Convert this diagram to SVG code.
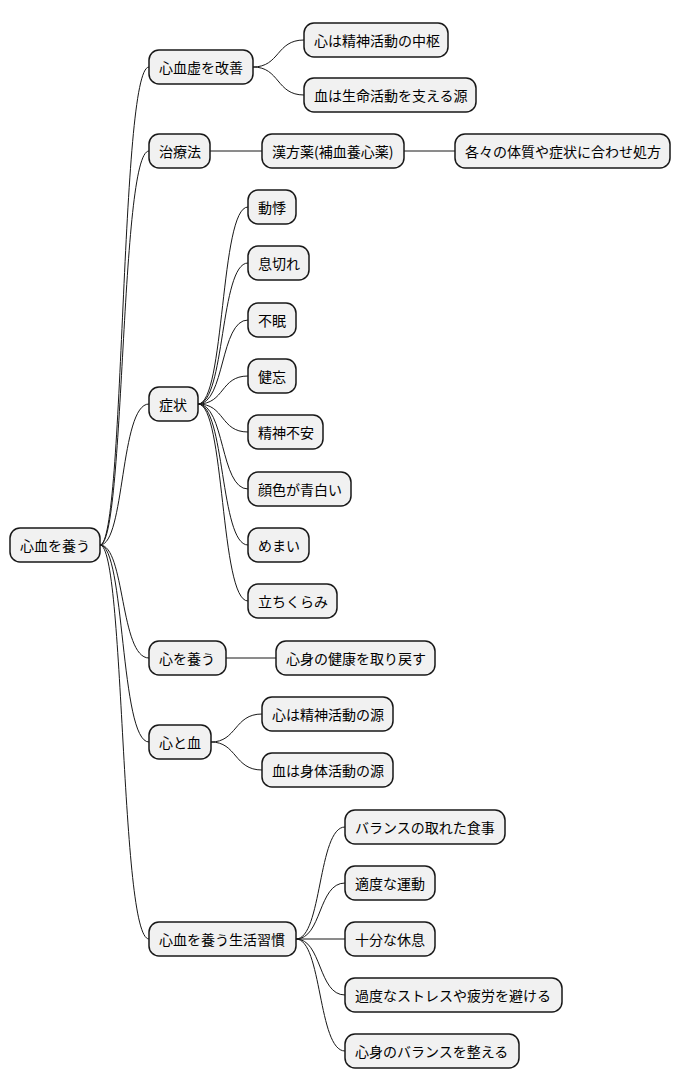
<svg xmlns="http://www.w3.org/2000/svg" width="681" height="1090" viewBox="0 0 681 1090">
<style>
rect{fill:#F1F1F1;stroke:#181818;stroke-width:1.5}
text{font-family:"Noto Sans CJK JP","Noto Sans",sans-serif;font-size:14px;fill:#000;dominant-baseline:central}
#edges path{fill:none;stroke:#181818;stroke-width:1}
</style>
<rect width="681" height="1090" style="fill:#fff;stroke:none"/>
<g id="edges">
<path d="M100,545 C125,545 120,67 149,67"/>
<path d="M100,545 C125,545 120,151 149,151"/>
<path d="M100,545 C125,545 120,404 149,404"/>
<path d="M100,545 C125,545 120,658 149,658"/>
<path d="M100,545 C125,545 120,742 149,742"/>
<path d="M100,545 C125,545 120,939 149,939"/>
<path d="M253,67 C280,67 276,40 304,40"/>
<path d="M253,67 C280,67 276,95 304,95"/>
<path d="M210,151 L262,151"/>
<path d="M404,151 L455,151"/>
<path d="M198,404 C225,404 220,207 248,207"/>
<path d="M198,404 C225,404 220,263 248,263"/>
<path d="M198,404 C225,404 220,320 248,320"/>
<path d="M198,404 C225,404 220,376 248,376"/>
<path d="M198,404 C225,404 220,432 248,432"/>
<path d="M198,404 C225,404 220,489 248,489"/>
<path d="M198,404 C225,404 220,545 248,545"/>
<path d="M198,404 C225,404 220,601 248,601"/>
<path d="M226,658 L276,658"/>
<path d="M211,742 C237,742 234,714 262,714"/>
<path d="M211,742 C237,742 234,770 262,770"/>
<path d="M296,939 C322,939 318,827 345,827"/>
<path d="M296,939 C322,939 318,883 345,883"/>
<path d="M296,939 L345,939"/>
<path d="M296,939 C322,939 318,995 345,995"/>
<path d="M296,939 C322,939 318,1051 345,1051"/>
</g>
<g id="root"><rect x="10" y="528" width="90" height="34" rx="10"/><text x="20" y="545">心血を養う</text></g>
<g id="n1"><rect x="149" y="50" width="104" height="34" rx="10"/><text x="159" y="67">心血虚を改善</text></g>
<g id="n1a"><rect x="304" y="23" width="144" height="34" rx="10"/><text x="314" y="40">心は精神活動の中枢</text></g>
<g id="n1b"><rect x="304" y="78" width="172" height="34" rx="10"/><text x="314" y="95">血は生命活動を支える源</text></g>
<g id="n2"><rect x="149" y="134" width="61" height="34" rx="10"/><text x="159" y="151">治療法</text></g>
<g id="n2a"><rect x="262" y="134" width="142" height="34" rx="10"/><text x="272" y="151">漢方薬(補血養心薬)</text></g>
<g id="n2b"><rect x="455" y="134" width="215" height="34" rx="10"/><text x="465" y="151">各々の体質や症状に合わせ処方</text></g>
<g id="n3"><rect x="149" y="387" width="49" height="34" rx="10"/><text x="159" y="404">症状</text></g>
<g id="n3a"><rect x="248" y="190" width="48" height="34" rx="10"/><text x="258" y="207">動悸</text></g>
<g id="n3b"><rect x="248" y="246" width="61" height="34" rx="10"/><text x="258" y="263">息切れ</text></g>
<g id="n3c"><rect x="248" y="303" width="48" height="34" rx="10"/><text x="258" y="320">不眠</text></g>
<g id="n3d"><rect x="248" y="359" width="48" height="34" rx="10"/><text x="258" y="376">健忘</text></g>
<g id="n3e"><rect x="248" y="415" width="75" height="34" rx="10"/><text x="258" y="432">精神不安</text></g>
<g id="n3f"><rect x="248" y="472" width="103" height="34" rx="10"/><text x="258" y="489">顔色が青白い</text></g>
<g id="n3g"><rect x="248" y="528" width="61" height="34" rx="10"/><text x="258" y="545">めまい</text></g>
<g id="n3h"><rect x="248" y="584" width="89" height="34" rx="10"/><text x="258" y="601">立ちくらみ</text></g>
<g id="n4"><rect x="149" y="641" width="77" height="34" rx="10"/><text x="159" y="658">心を養う</text></g>
<g id="n4a"><rect x="276" y="641" width="159" height="34" rx="10"/><text x="286" y="658">心身の健康を取り戻す</text></g>
<g id="n5"><rect x="149" y="725" width="62" height="34" rx="10"/><text x="159" y="742">心と血</text></g>
<g id="n5a"><rect x="262" y="697" width="131" height="34" rx="10"/><text x="272" y="714">心は精神活動の源</text></g>
<g id="n5b"><rect x="262" y="753" width="131" height="34" rx="10"/><text x="272" y="770">血は身体活動の源</text></g>
<g id="n6"><rect x="149" y="922" width="147" height="34" rx="10"/><text x="159" y="939">心血を養う生活習慣</text></g>
<g id="n6a"><rect x="345" y="810" width="160" height="34" rx="10"/><text x="355" y="827">バランスの取れた食事</text></g>
<g id="n6b"><rect x="345" y="866" width="90" height="34" rx="10"/><text x="355" y="883">適度な運動</text></g>
<g id="n6c"><rect x="345" y="922" width="90" height="34" rx="10"/><text x="355" y="939">十分な休息</text></g>
<g id="n6d"><rect x="345" y="978" width="217" height="34" rx="10"/><text x="355" y="995">過度なストレスや疲労を避ける</text></g>
<g id="n6e"><rect x="345" y="1034" width="174" height="34" rx="10"/><text x="355" y="1051">心身のバランスを整える</text></g>
</svg>
